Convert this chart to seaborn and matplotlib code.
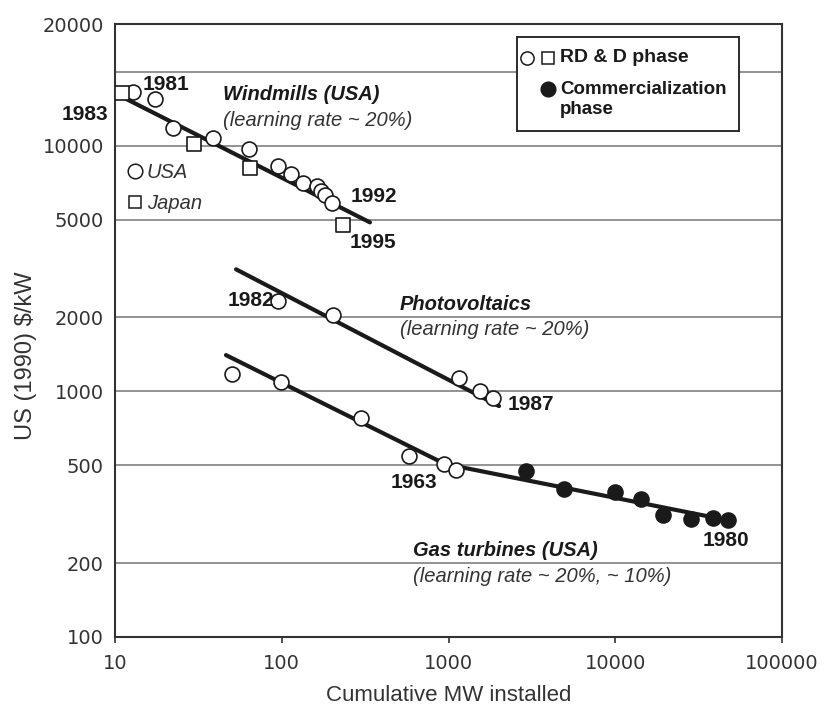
import numpy as np
import pandas as pd
import matplotlib
matplotlib.use("Agg")
import matplotlib.pyplot as plt
import seaborn as sns
from matplotlib.patches import Rectangle
from matplotlib.lines import Line2D

# ---------------- data ----------------
wind_usa_mw = [12.9, 17.4, 22.2, 38.9, 63.6, 95.3, 113.6, 134.7, 162, 171, 181.7, 201]
wind_usa_cost = [16480, 15430, 11760, 10770, 9660, 8260, 7640, 7060, 6870, 6535, 6295, 5860]
wind_jp_mw = [10.97, 29.9, 64.5, 232]
wind_jp_cost = [16330, 10120, 8080, 4760]
wind_fit_mw = [10.97, 338]
wind_fit_cost = [15820, 4870]

pv_mw = [94.6, 202, 1161, 1545, 1856]
pv_cost = [2337, 2044, 1136, 1006, 942]
pv_fit_mw = [53.2, 2009]
pv_fit_cost = [3137, 871]

gas_rd_mw = [50.1, 99, 297.5, 582, 943, 1109]
gas_rd_cost = [1176, 1088, 781, 547, 506, 480]
gas_com_mw = [2900, 4900, 9900, 14300, 19300, 28400, 38700, 47600]
gas_com_cost = [475, 400, 390, 365, 314, 302, 304, 298]
gas_fit_mw = [46.3, 953, 38570]
gas_fit_cost = [1404, 506, 307]

y_ticks = [100, 200, 500, 1000, 2000, 5000, 10000, 20000, 31260]
y_ticklabels = ["100", "200", "500", "1000", "2000", "5000", "10000", "", "20000"]
x_ticks = [10, 100, 1000, 10000, 100000]
x_ticklabels = ["10", "100", "1000", "10000", "100000"]

# ---------------- styling ----------------
sns.set_theme(style="white")
plt.rcParams["font.family"] = ["Liberation Sans", "DejaVu Sans"]

W, H = 826, 710
fig = plt.figure(figsize=(W / 100, H / 100), dpi=100)
L, R, T, B = 115, 782, 24, 637
ax = fig.add_axes([L / W, 1 - B / H, (R - L) / W, (B - T) / H])

ink = "#1a1a1a"
grid_c = "#8a8a8a"

ax.set_xscale("log")
ax.set_yscale("log")
ax.set_xlim(10, 100000)
ax.set_ylim(100, 31260)

# grid lines
for yv in y_ticks[1:-1]:
    ax.axhline(yv, color=grid_c, lw=1.3, zorder=0)

# fit lines
sns.lineplot(x=wind_fit_mw, y=wind_fit_cost, ax=ax, color=ink, lw=3.0, zorder=2)
sns.lineplot(x=pv_fit_mw, y=pv_fit_cost, ax=ax, color=ink, lw=3.0, zorder=2)
sns.lineplot(x=gas_fit_mw, y=gas_fit_cost, ax=ax, color=ink, lw=3.0, zorder=2)

# points
open_kw = dict(facecolor="white", edgecolor=ink, linewidth=1.2, zorder=3, ax=ax, legend=False)
sns.scatterplot(x=wind_usa_mw, y=wind_usa_cost, marker="o", s=115, **open_kw)
sns.scatterplot(x=wind_jp_mw, y=wind_jp_cost, marker="s", s=90, **open_kw)
sns.scatterplot(x=pv_mw, y=pv_cost, marker="o", s=115, **open_kw)
sns.scatterplot(x=gas_rd_mw, y=gas_rd_cost, marker="o", s=115, **open_kw)
sns.scatterplot(x=gas_com_mw, y=gas_com_cost, marker="o", s=120, facecolor=ink,
                edgecolor=ink, linewidth=1.0, zorder=3, ax=ax, legend=False)

# axes / ticks
ax.set_yticks(y_ticks)
ax.set_yticklabels(y_ticklabels, fontsize=14, family="DejaVu Sans", color="#333333")
ax.set_xticks(x_ticks)
ax.set_xticklabels(x_ticklabels, fontsize=14, family="DejaVu Sans", color="#333333")
ax.minorticks_off()
ax.tick_params(axis="y", length=0, pad=8)
ax.tick_params(axis="x", length=4, width=1.2, color="#333333", direction="out", pad=8, bottom=True)
for sp in ax.spines.values():
    sp.set_color("#333333")
    sp.set_linewidth(1.5)
    sp.set_visible(True)

ax.set_xlabel("Cumulative MW installed", fontsize=16, color="#333333", labelpad=9)
ax.set_ylabel("US (1990) $/kW", fontsize=17, color="#333333")
ax.yaxis.set_label_coords((37 - L) / (R - L), (B - 356) / (B - T))


def P(x, y):
    return (x / W, 1 - y / H)


def txt(x, y, s, ha="left", weight="normal", style="normal", size=14, color=ink):
    fig.text(*P(x, y), s, ha=ha, va="center", fontweight=weight, fontstyle=style,
             fontsize=size, color=color, zorder=7)


bold = dict(weight="bold", size=15)
txt(143, 85, "1981", **bold)
txt(108, 115, "1983", ha="right", **bold)
txt(351, 197, "1992", **bold)
txt(350, 242, "1995", **bold)
txt(274, 301, "1982", ha="right", **bold)
txt(508, 404, "1987", **bold)
txt(391, 482, "1963", **bold)
txt(703, 541, "1980", **bold)

txt(223, 95, "Windmills (USA)", weight="bold", style="italic", size=14.5)
txt(223, 120, "(learning rate ~ 20%)", style="italic", size=14.5, color="#333333")
txt(400, 305, "Photovoltaics", weight="bold", style="italic", size=14.5)
txt(400, 329, "(learning rate ~ 20%)", style="italic", size=14.5, color="#333333")
txt(413, 550, "Gas turbines (USA)", weight="bold", style="italic", size=14.5)
txt(413, 576, "(learning rate ~ 20%, ~ 10%)", style="italic", size=14.5, color="#333333")


# inline key USA / Japan
def mark(x, y, marker, ms, fc):
    fig.add_artist(Line2D([x / W], [1 - y / H], marker=marker, markersize=ms,
                          markerfacecolor=fc, markeredgecolor=ink, markeredgewidth=1.1,
                          linestyle="none", transform=fig.transFigure, zorder=6))


mark(135, 171, "o", 10.5, "white")
txt(147, 172, "USA", style="italic", size=14.5, color="#333333")
mark(135, 202, "s", 9, "white")
txt(147, 203, "Japan", style="italic", size=14.5, color="#333333")

# legend box
bx0, bx1, by0, by1 = 517, 739, 37, 131
fig.add_artist(Rectangle(P(bx0, by1), (bx1 - bx0) / W, (by1 - by0) / H,
                         transform=fig.transFigure, facecolor="white",
                         edgecolor=ink, linewidth=1.3, zorder=5))
mark(527, 58, "o", 9.5, "white")
mark(548, 58, "s", 8.5, "white")
mark(548, 89, "o", 10.5, ink)
txt(560, 58, "RD & D phase", weight="bold", size=14)
txt(560, 89, "Commercialization", weight="bold", size=13.5)
txt(560, 110, "phase", weight="bold", size=13.5)

fig.savefig("out.png", dpi=100)
